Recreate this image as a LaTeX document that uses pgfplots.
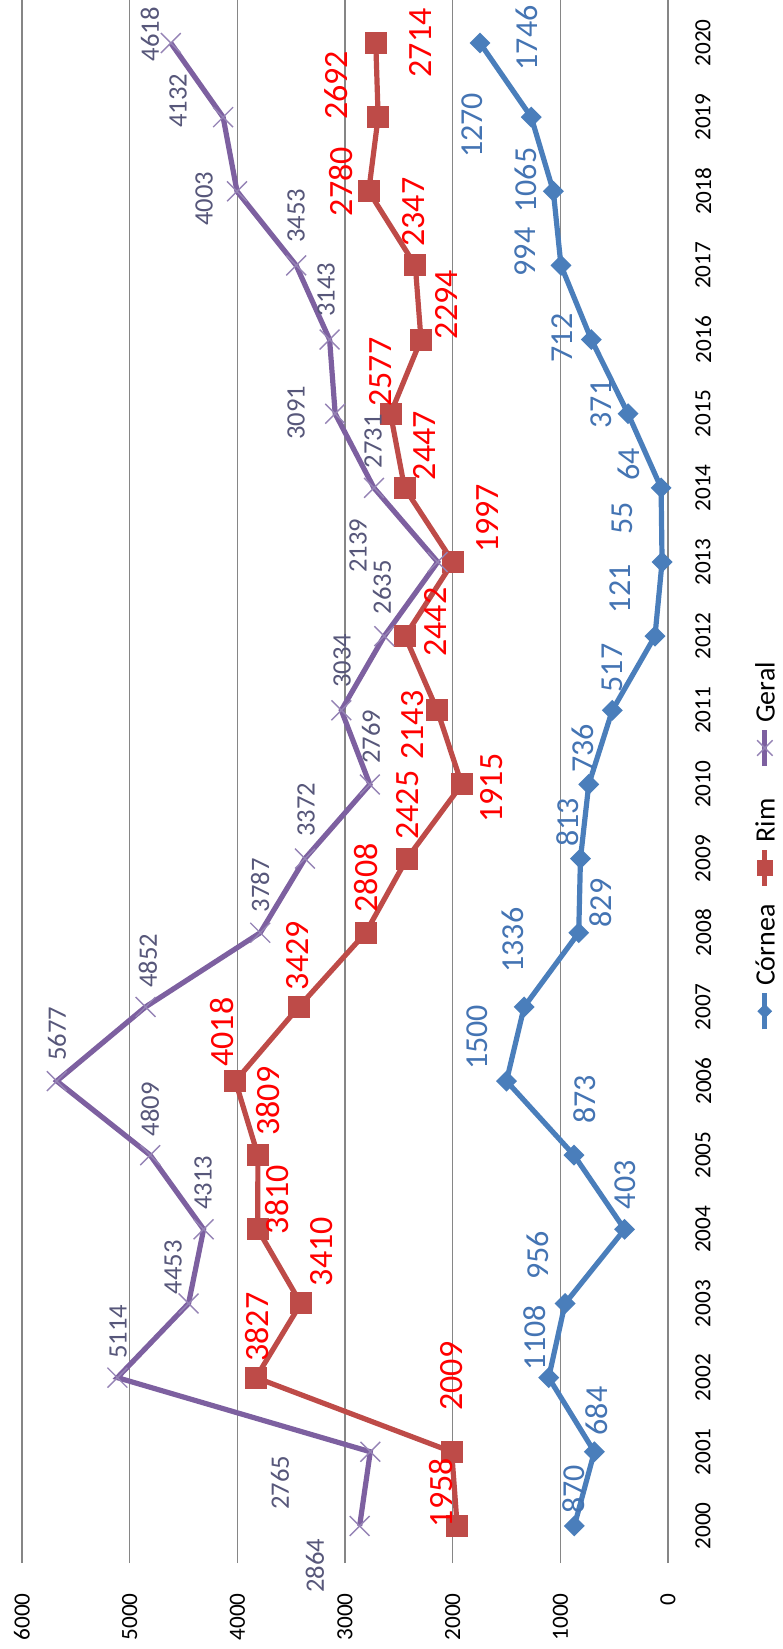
\documentclass[border=0pt]{standalone}
\usepackage{fontspec}
\setmainfont{Carlito}
\usepackage{pgfplots}
\pgfplotsset{compat=1.18}
\usepackage{pgfplotstable}

\definecolor{cblue}{HTML}{4A7EBB}
\definecolor{cred}{HTML}{BE4B48}
\definecolor{cpurple}{HTML}{7D60A0}
\definecolor{cpurplelt}{HTML}{9583B5}
\definecolor{labblue}{HTML}{4474B3}
\definecolor{labgeral}{HTML}{57577A}
\definecolor{gridgray}{HTML}{868686}

% legend key: line with a mark in the middle
\newcommand{\lkey}[2]{\tikz[baseline=-0.35em]{\draw[#1, line width=2.6bp] (0,0) -- (18bp,0);
  \draw[#1] plot[#2] coordinates {(9bp,0)};}}

% year, Córnea, Rim, Geral
\pgfplotstableread{
year cor rim ger
2000 870 1958 2864
2001 684 2009 2765
2002 1108 3827 5114
2003 956 3410 4453
2004 403 3810 4313
2005 873 3809 4809
2006 1500 4018 5677
2007 1336 3429 4852
2008 829 2808 3787
2009 813 2425 3372
2010 736 1915 2769
2011 517 2143 3034
2012 121 2442 2635
2013 55 1997 2139
2014 64 2447 2731
2015 371 2577 3091
2016 712 2294 3143
2017 994 2347 3453
2018 1065 2780 4003
2019 1270 2692 4132
2020 1746 2714 4618
}\datatab

% where the data labels sit (value, year, text)
\pgfplotstableread{
v y lab
1310 2020.07 1746
1820 2018.89 1270
1319 2018.15 1065
1328 2017.18 994
984 2016.02 712
622 2015.13 371
362 2014.32 64
427 2013.59 55
446 2012.64 121
520 2011.57 517
789 2010.49 736
929 2009.49 813
622 2008.40 829
1440 2007.90 1336
1774 2006.59 1500
771 2005.75 873
399 2004.60 403
1207 2003.65 956
1235 2002.54 1108
659 2001.55 684
873 2000.49 870
}\corlab

\pgfplotstableread{
v y lab
2303 2020.00 2714
3084 2019.43 2692
3037 2018.13 2780
2359 2017.72 2347
2062 2016.47 2294
2666 2015.56 2577
2266 2014.57 2447
1681 2013.59 1997
2164 2012.19 2442
2368 2010.80 2143
1635 2009.95 1915
2415 2009.72 2425
2805 2008.74 2808
3436 2007.69 3429
4142 2006.66 4018
3715 2005.73 3809
3631 2004.40 3810
3214 2003.70 3410
3817 2002.68 3827
2006 2002.02 2009
2108 2000.45 1958
}\rimlab

\pgfplotstableread{
v y lab
4811 2020.12 4618
4551 2019.22 4132
4309 2017.90 4003
3455 2017.67 3453
3176 2016.67 3143
3455 2015.01 3091
2740 2014.63 2731
2879 2013.22 2139
2656 2012.66 2635
3028 2011.67 3034
2758 2010.64 2769
3362 2009.66 3372
3789 2008.64 3787
4830 2007.62 4852
5675 2006.64 5677
4811 2005.62 4809
4319 2004.63 4313
4597 2003.49 4453
5108 2002.62 5114
3604 2000.58 2765
3279 1999.46 2864
}\gerlab

\begin{document}
\begin{tikzpicture}
\begin{axis}[
  scale only axis,
  width=323bp, height=781.5bp,
  xmin=0, xmax=6000, x dir=reverse,
  ymin=1999.5, ymax=2020.58,
  xtick={0,1000,...,6000},
  ytick={2000,2001,...,2020},
  axis line style={draw=none},
  major tick length=0pt,
  xmajorgrids,
  grid style={draw=gridgray, line width=0.8bp},
  yticklabel pos=right,
  /pgf/number format/1000 sep={},
  /pgf/number format/assume math mode=true,
  tick label style={font=\fontsize{11.6bp}{14bp}\selectfont, inner sep=0pt, rotate=90},
  xticklabel style={anchor=east},
  yticklabel style={anchor=north},
  xticklabel shift=15bp,
  yticklabel shift=13.5bp,
  clip=false,
]
\addplot[color=cblue, line width=2.6bp, mark=square*, mark size=2.4bp,
  mark options={rotate=45, solid}] table[x=cor, y=year] {\datatab};
\addplot[color=cred, line width=2.6bp, mark=square*, mark size=4.2bp,
  mark options={solid}] table[x=rim, y=year] {\datatab};
\addplot[color=cpurple, line width=2.6bp, mark=x, mark size=7bp,
  mark options={color=cpurplelt, line width=0.7bp}] table[x=ger, y=year] {\datatab};

\addplot[draw=none, mark=none, nodes near coords, point meta=explicit symbolic,
  nodes near coords style={anchor=center, rotate=90, inner sep=0pt, text=labblue,
    font=\fontsize{16bp}{18bp}\selectfont}] table[x=v, y=y, meta=lab] {\corlab};
\addplot[draw=none, mark=none, nodes near coords, point meta=explicit symbolic,
  nodes near coords style={anchor=center, rotate=90, inner sep=0pt, text=red,
    font=\fontsize{17bp}{19bp}\selectfont}] table[x=v, y=y, meta=lab] {\rimlab};
\addplot[draw=none, mark=none, nodes near coords, point meta=explicit symbolic,
  nodes near coords style={anchor=center, rotate=90, inner sep=0pt, text=labgeral,
    font=\fontsize{13.3bp}{15bp}\selectfont}] table[x=v, y=y, meta=lab] {\gerlab};

\coordinate (LL) at (axis cs:6000,1999.5);
\coordinate (UR) at (axis cs:0,2020.58);
\end{axis}
% legend, turned like the rest of the chart
\node[rotate=90, inner sep=0pt, anchor=center, font=\fontsize{14bp}{16bp}\selectfont]
  at ([shift={(371.5bp,358bp)}]LL)
  {\lkey{cblue}{mark=square*, mark size=2.4bp, mark options={rotate=45}}\,Córnea\hspace{8bp}%
   \lkey{cred}{mark=square*, mark size=3.8bp}\,Rim\hspace{15bp}%
   \lkey{cpurple}{mark=x, mark size=5.5bp, mark options={color=cpurplelt, line width=0.7bp}}\,Geral};
\pgfresetboundingbox
\path[use as bounding box] ([shift={(-11bp,-43bp)}]LL) rectangle ([shift={(57.5bp,0bp)}]UR);
\end{tikzpicture}
\end{document}
